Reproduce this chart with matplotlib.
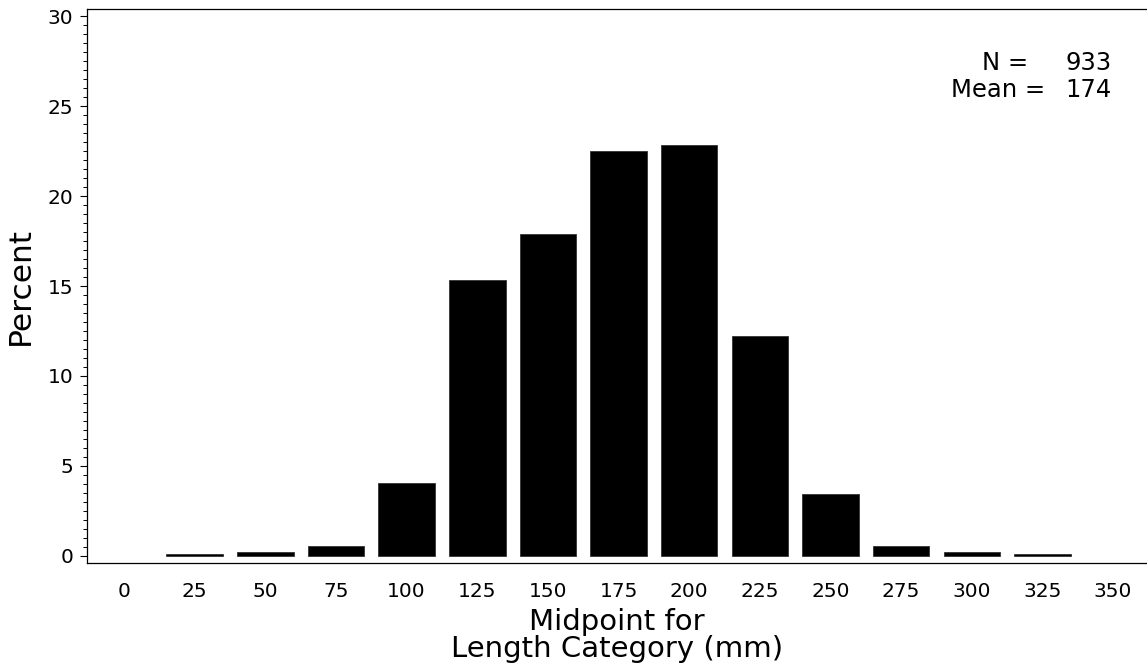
import matplotlib
matplotlib.use("Agg")
import matplotlib.pyplot as plt
from matplotlib.ticker import MultipleLocator

# ---- data ----
midpoints = [25, 50, 75, 100, 125, 150, 175, 200, 225, 250, 275, 300, 325]
percents = [0.11, 0.21, 0.54, 4.07, 15.33, 17.90, 22.51, 22.83, 12.22, 3.43, 0.54, 0.21, 0.11]
xticks = [0, 25, 50, 75, 100, 125, 150, 175, 200, 225, 250, 275, 300, 325, 350]
yticks = [0, 5, 10, 15, 20, 25, 30]
n_total = 933
mean_len = 174

plt.rcParams["font.family"] = ["DejaVu Sans"]

W, H = 1147, 667
fig = plt.figure(figsize=(W / 100, H / 100), dpi=100)
L, R, T, B = 87, 1147, 9, 563
ax = fig.add_axes([L / W, 1 - B / H, (R - L) / W, (B - T) / H])

ax.bar(midpoints, percents, width=20, color="black", edgecolor="#333333", linewidth=0.6)

ax.set_xlim(-13.1, 362)
ax.set_ylim(-0.39, 30.39)
ax.set_xticks(xticks)
ax.set_xticklabels([str(v) for v in xticks])
ax.set_yticks(yticks)
ax.set_yticklabels([str(v) for v in yticks])
ax.yaxis.set_minor_locator(MultipleLocator(0.5))

ax.spines["right"].set_visible(False)
for s in ["left", "bottom", "top"]:
    ax.spines[s].set_linewidth(0.9)

ax.tick_params(axis="y", which="major", direction="out", length=5, width=0.8, labelsize=14.5, pad=5)
ax.tick_params(axis="y", which="minor", direction="out", length=3, width=0.7)
ax.tick_params(axis="x", which="both", length=0, labelsize=14.5, pad=14)

ax.set_ylabel("Percent", fontsize=22.5, labelpad=9)
ax.set_xlabel("Midpoint for\nLength Category (mm)", fontsize=21, labelpad=5, linespacing=0.95)

def axx(px):
    return (px - L) / (R - L)

def axy(py):
    return (B - py) / (B - T)

fs = 17.5
ax.text(axx(1028), axy(63), "N =", ha="right", va="center", fontsize=fs, transform=ax.transAxes)
ax.text(axx(1112), axy(63), f"{n_total}", ha="right", va="center", fontsize=fs, transform=ax.transAxes)
ax.text(axx(1045), axy(90), "Mean =", ha="right", va="center", fontsize=fs, transform=ax.transAxes)
ax.text(axx(1112), axy(90), f"{mean_len}", ha="right", va="center", fontsize=fs, transform=ax.transAxes)

fig.savefig("out.png", dpi=100)
